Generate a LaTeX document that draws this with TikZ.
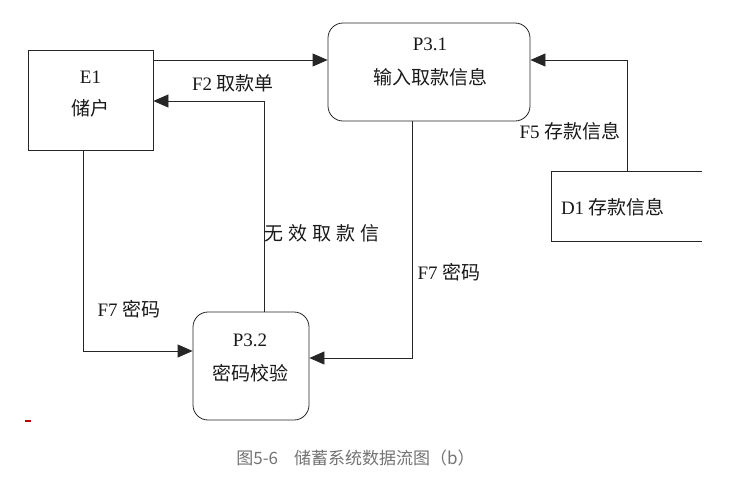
\documentclass[tikz,border=0pt]{standalone}
\usepackage{fontspec}
\setmainfont{Liberation Serif}
\newfontfamily\cjk{Noto Sans CJK SC}
\usetikzlibrary{arrows.meta}
\begin{document}
\begin{tikzpicture}[x=1pt,y=-1pt,
  every node/.style={font=\fontsize{19}{22}\selectfont, text=black!90, inner sep=0pt},
  box/.style={draw=black!85, line width=0.8pt, rectangle},
  proc/.style={draw=black!85, line width=0.8pt, rectangle, rounded corners=15pt},
  flow/.style={draw=black!85, line width=0.8pt, -{Triangle[length=15pt,width=13pt]}},
  edge/.style={draw=black!85, line width=0.8pt}]
\useasboundingbox (0,0) rectangle (743,477);
% entities and processes
\node[box, minimum width=125pt, minimum height=100pt] (E1) at (90.5,100) {};
\node (E1t) at (90.5,77) {E1};
\node (E1n) at (90.5,108) {\cjk 储户};
\node[proc, minimum width=202pt, minimum height=98pt] (P31) at (429,72) {};
\node (P31t) at (430,44) {P3.1};
\node (P31n) at (430,77) {\cjk 输入取款信息};
\node[proc, minimum width=116pt, minimum height=108pt] (P32) at (251,366) {};
\node (P32t) at (250,340) {P3.2};
\node (P32n) at (250,373) {\cjk 密码校验};
\node[minimum width=150pt, minimum height=69pt] (D1) at (627,206.5) {};
\draw[edge] (D1.north east) -- (D1.north west) -- (D1.south west) -- (D1.south east);
\node (D1t) at (613,207) {D1 {\cjk 存款信息}};
% bends
\coordinate (a1) at (0,60);
\coordinate (b2) at (264,101);
\coordinate (c2) at (83,351);
\coordinate (d2) at (412,358);
\coordinate (e2) at (627,60);
% flows
\draw[flow] (E1.east |- a1) -- (P31.west |- a1);
\draw[flow] (P32.north -| b2) -- (b2) -- (E1.east |- b2);
\draw[flow] (E1.south -| c2) -- (c2) -- (P32.west |- c2);
\draw[flow] (P31.south -| d2) -- (d2) -- (P32.east |- d2);
\draw[flow] (D1.north -| e2) -- (e2) -- (P31.east |- e2);
% labels
\node (f2) at (233,83) {F2 {\cjk 取款单}};
\node (inv) at (322,233) {\cjk 无\hspace{5pt}效\hspace{5pt}取\hspace{5pt}款\hspace{5pt}信};
\node (f7a) at (129,309) {F7 {\cjk 密码}};
\node (f7b) at (449,272) {F7 {\cjk 密码}};
\node (f5) at (570,131) {F5 {\cjk 存款信息}};
% caption
\node[text=black!55, font=\cjk\fontsize{17}{20}\selectfont] (cap) at (355.5,458) {图5-6\hspace{16pt}储蓄系统数据流图（b）};
\draw[red!75!black, line width=1.5pt] (25,421) -- (31,421);
\end{tikzpicture}
\end{document}
